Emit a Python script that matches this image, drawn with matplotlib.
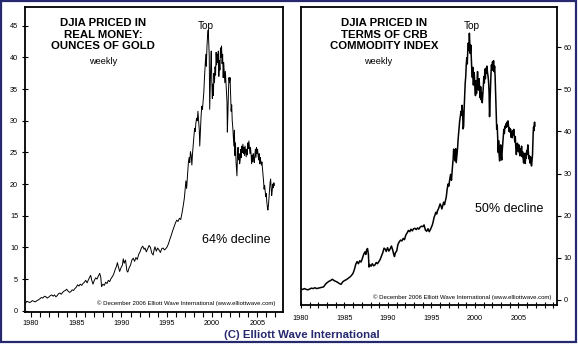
import matplotlib
matplotlib.use("Agg")
import matplotlib.pyplot as plt
from matplotlib.patches import Rectangle

# ---------------- data ----------------
gold_t = [1979.4, 1979.55, 1979.7, 1979.85, 1980.0, 1980.15, 1980.3, 1980.5, 1980.65, 1980.8,
          1981.0, 1981.15, 1981.3, 1981.5, 1981.65, 1981.8, 1982.0, 1982.15, 1982.3, 1982.45,
          1982.6, 1982.75, 1982.9, 1983.05, 1983.2, 1983.35, 1983.5, 1983.65, 1983.8, 1983.95,
          1984.1, 1984.25, 1984.4, 1984.55, 1984.7, 1984.85, 1985.0, 1985.15, 1985.3, 1985.45,
          1985.6, 1985.75, 1985.9, 1986.05, 1986.2, 1986.35, 1986.5, 1986.6, 1986.7, 1986.85,
          1987.0, 1987.15, 1987.3, 1987.45, 1987.6, 1987.72, 1987.8, 1987.95, 1988.1, 1988.25,
          1988.4, 1988.55, 1988.7, 1988.85, 1989.0, 1989.15, 1989.3, 1989.45, 1989.55, 1989.65,
          1989.8, 1989.95, 1990.1, 1990.2, 1990.3, 1990.45, 1990.6, 1990.7, 1990.85, 1991.0,
          1991.15, 1991.3, 1991.45, 1991.6, 1991.75, 1991.9, 1992.05, 1992.2, 1992.35, 1992.5,
          1992.6, 1992.75, 1992.9, 1993.05, 1993.2, 1993.35, 1993.5, 1993.6, 1993.7, 1993.85,
          1994.0, 1994.15, 1994.3, 1994.45, 1994.6, 1994.75, 1994.9, 1995.05, 1995.2, 1995.35,
          1995.5, 1995.65, 1995.8, 1995.95, 1996.1, 1996.25, 1996.4, 1996.55, 1996.7, 1996.85,
          1996.95, 1997.05, 1997.12, 1997.2, 1997.3, 1997.4, 1997.48, 1997.55, 1997.62, 1997.7,
          1997.78, 1997.85, 1997.92, 1998.0, 1998.08, 1998.15, 1998.22, 1998.3, 1998.38, 1998.45,
          1998.52, 1998.6, 1998.65, 1998.72, 1998.8, 1998.88, 1998.95, 1999.02, 1999.1, 1999.18,
          1999.25, 1999.32, 1999.38, 1999.45, 1999.52, 1999.58, 1999.64, 1999.7, 1999.75, 1999.8,
          1999.86, 1999.92, 1999.98, 2000.04, 2000.1, 2000.16, 2000.22, 2000.28, 2000.34, 2000.4,
          2000.46, 2000.52, 2000.58, 2000.64, 2000.7, 2000.76, 2000.82, 2000.88, 2000.94, 2001.0,
          2001.06, 2001.12, 2001.18, 2001.24, 2001.3, 2001.36, 2001.42, 2001.48, 2001.54, 2001.6,
          2001.66, 2001.7, 2001.76, 2001.82, 2001.88, 2001.94, 2002.0, 2002.06, 2002.12, 2002.18,
          2002.24, 2002.3, 2002.36, 2002.42, 2002.48, 2002.54, 2002.6, 2002.66, 2002.72, 2002.76,
          2002.82, 2002.88, 2002.94, 2003.0, 2003.06, 2003.12, 2003.18, 2003.24, 2003.3, 2003.36,
          2003.42, 2003.48, 2003.54, 2003.6, 2003.66, 2003.72, 2003.78, 2003.84, 2003.9, 2003.96,
          2004.02, 2004.08, 2004.14, 2004.2, 2004.26, 2004.32, 2004.38, 2004.44, 2004.5, 2004.56,
          2004.62, 2004.68, 2004.74, 2004.8, 2004.86, 2004.92, 2004.98, 2005.04, 2005.1, 2005.16,
          2005.22, 2005.28, 2005.34, 2005.4, 2005.46, 2005.52, 2005.58, 2005.64, 2005.7, 2005.76,
          2005.82, 2005.88, 2005.94, 2006.0, 2006.06, 2006.12, 2006.18, 2006.24, 2006.3, 2006.36,
          2006.42, 2006.48, 2006.54, 2006.6, 2006.66, 2006.72, 2006.78, 2006.84, 2006.9]
gold_v = [1.2, 1.5, 1.4, 1.3, 1.4, 1.6, 1.5, 1.4, 1.6, 1.7,
          1.9, 2.1, 2.0, 2.3, 2.2, 2.0, 2.2, 2.4, 2.5, 2.3,
          2.5, 2.2, 2.4, 2.7, 2.8, 2.6, 2.9, 3.1, 3.2, 3.4,
          3.1, 2.9, 3.0, 3.3, 3.2, 3.5, 3.7, 4.1, 3.9, 4.2,
          4.0, 4.3, 4.5, 4.8, 4.4, 4.9, 5.3, 5.6, 4.9, 4.2,
          4.8, 5.2, 5.0, 5.5, 5.9, 5.2, 3.8, 4.2, 4.0, 4.5,
          4.3, 4.8, 4.6, 5.1, 5.4, 5.8, 6.5, 7.0, 7.6, 7.0,
          6.2, 6.8, 7.2, 8.2, 7.5, 8.0, 6.3, 6.1, 6.8, 7.2,
          8.0, 8.3, 7.8, 8.4, 8.1, 8.9, 9.3, 9.9, 10.2, 9.7,
          9.9, 9.3, 9.8, 10.3, 10.0, 9.1, 8.8, 9.6, 10.1, 9.4,
          9.9, 9.6, 9.2, 9.8, 9.9, 9.6, 9.8, 10.1, 10.6, 11.3,
          11.9, 12.6, 13.2, 13.8, 14.3, 14.1, 14.6, 14.4, 15.5, 16.8,
          17.8, 19.5, 20.5, 19.3, 21.5, 23.5, 24.2, 23.4, 25.1, 24.6,
          23.0, 24.8, 26.0, 27.5, 28.8, 28.3, 29.6, 30.4, 30.0, 31.5,
          30.2, 28.5, 26.0, 28.2, 30.8, 32.3, 31.8, 33.0, 34.5, 37.0,
          38.8, 40.5, 38.6, 41.8, 43.5, 44.3, 42.5, 40.2, 31.8, 35.0,
          38.5, 41.0, 36.5, 33.5, 35.8, 34.0, 37.5, 36.0, 38.5, 37.2,
          40.8, 38.8, 40.5, 39.2, 41.0, 37.0, 39.5, 38.0, 41.5, 40.0,
          41.8, 39.0, 40.5, 36.8, 39.2, 37.5, 36.0, 37.8, 36.2, 34.5,
          33.0, 28.2, 31.0, 34.5, 36.8, 36.0, 36.8, 34.0, 31.5, 32.5,
          30.0, 29.0, 27.5, 26.0, 28.5, 24.5, 26.5, 23.5, 22.2, 21.3,
          24.5, 25.8, 23.8, 24.8, 23.2, 23.8, 25.5, 24.2, 26.0, 25.0,
          26.3, 24.8, 25.8, 24.5, 26.0, 25.2, 24.3, 25.5, 24.6, 26.5,
          25.6, 26.8, 25.8, 24.8, 25.8, 24.8, 23.2, 24.5, 23.5, 24.8,
          24.0, 23.4, 24.6, 25.5, 24.2, 25.8, 24.8, 25.5, 24.5, 23.8,
          24.8, 23.2, 24.2, 23.5, 23.0, 23.5, 22.5, 21.5, 20.5, 19.2,
          19.8, 18.8, 18.0, 18.5, 17.2, 16.4, 15.9, 16.6, 17.8, 18.8,
          20.2, 20.8, 19.5, 18.2, 19.0, 20.0, 19.4, 20.2, 19.8]

crb_t = [1980.0, 1980.2, 1980.4, 1980.6, 1980.8, 1981.0, 1981.2, 1981.4, 1981.6, 1981.8,
         1982.0, 1982.2, 1982.4, 1982.6, 1982.8, 1983.0, 1983.2, 1983.4, 1983.6, 1983.8,
         1984.0, 1984.2, 1984.4, 1984.6, 1984.8, 1985.0, 1985.2, 1985.4, 1985.6, 1985.8,
         1986.0, 1986.15, 1986.3, 1986.45, 1986.6, 1986.75, 1986.9, 1987.05, 1987.2, 1987.35,
         1987.45, 1987.55, 1987.65, 1987.75, 1987.82, 1987.9, 1988.05, 1988.2, 1988.35, 1988.5,
         1988.65, 1988.8, 1988.95, 1989.1, 1989.25, 1989.4, 1989.55, 1989.7, 1989.8, 1989.95,
         1990.1, 1990.25, 1990.4, 1990.55, 1990.65, 1990.75, 1990.85, 1991.0, 1991.15, 1991.3,
         1991.45, 1991.6, 1991.75, 1991.9, 1992.05, 1992.2, 1992.35, 1992.5, 1992.65, 1992.8,
         1992.95, 1993.1, 1993.25, 1993.4, 1993.55, 1993.7, 1993.85, 1994.0, 1994.15, 1994.3,
         1994.45, 1994.6, 1994.75, 1994.9, 1995.0, 1995.1, 1995.2, 1995.3, 1995.4, 1995.5,
         1995.6, 1995.7, 1995.8, 1995.9, 1996.0, 1996.1, 1996.2, 1996.3, 1996.4, 1996.5,
         1996.6, 1996.7, 1996.8, 1996.9, 1997.0, 1997.1, 1997.2, 1997.3, 1997.4, 1997.5,
         1997.55, 1997.62, 1997.7, 1997.78, 1997.85, 1997.92, 1998.0, 1998.08, 1998.16, 1998.24,
         1998.32, 1998.4, 1998.46, 1998.52, 1998.58, 1998.64, 1998.7, 1998.76, 1998.82, 1998.88,
         1998.94, 1999.0, 1999.06, 1999.12, 1999.18, 1999.24, 1999.3, 1999.36, 1999.4, 1999.46,
         1999.52, 1999.58, 1999.64, 1999.7, 1999.76, 1999.82, 1999.88, 1999.94, 2000.0, 2000.06,
         2000.12, 2000.18, 2000.24, 2000.3, 2000.36, 2000.42, 2000.48, 2000.54, 2000.6, 2000.66,
         2000.72, 2000.78, 2000.84, 2000.9, 2000.96, 2001.02, 2001.08, 2001.14, 2001.2, 2001.26,
         2001.32, 2001.38, 2001.44, 2001.5, 2001.56, 2001.62, 2001.68, 2001.72, 2001.78, 2001.84,
         2001.9, 2001.96, 2002.02, 2002.08, 2002.14, 2002.2, 2002.26, 2002.32, 2002.38, 2002.44,
         2002.5, 2002.56, 2002.62, 2002.68, 2002.72, 2002.78, 2002.84, 2002.9, 2002.96, 2003.02,
         2003.08, 2003.14, 2003.2, 2003.26, 2003.32, 2003.38, 2003.44, 2003.5, 2003.56, 2003.62,
         2003.68, 2003.74, 2003.8, 2003.86, 2003.92, 2003.98, 2004.04, 2004.1, 2004.16, 2004.22,
         2004.28, 2004.34, 2004.4, 2004.46, 2004.52, 2004.58, 2004.64, 2004.7, 2004.76, 2004.82,
         2004.88, 2004.94, 2005.0, 2005.06, 2005.12, 2005.18, 2005.24, 2005.3, 2005.36, 2005.42,
         2005.48, 2005.54, 2005.6, 2005.66, 2005.72, 2005.78, 2005.84, 2005.9, 2005.96, 2006.02,
         2006.08, 2006.14, 2006.2, 2006.26, 2006.32, 2006.38, 2006.44, 2006.5, 2006.56, 2006.62,
         2006.66, 2006.7, 2006.74, 2006.78, 2006.82, 2006.86, 2006.9]
crb_v = [2.6, 2.5, 2.7, 2.5, 2.4, 2.6, 2.8, 2.7, 2.9, 2.7,
         2.8, 2.9, 3.0, 3.1, 3.7, 4.1, 4.4, 4.6, 4.9, 4.6,
         4.4, 4.2, 3.9, 3.7, 4.3, 4.6, 4.8, 5.1, 5.4, 5.8,
         6.4, 7.3, 8.5, 9.1, 8.6, 9.3, 9.0, 9.8, 10.8, 11.4,
         10.8, 11.9, 12.2, 10.8, 7.8, 8.4, 8.0, 8.6, 8.1, 8.3,
         8.9, 8.6, 9.1, 9.6, 10.4, 11.2, 12.3, 12.0, 11.5, 12.4,
         11.6, 12.1, 12.8, 11.8, 10.9, 10.3, 11.2, 11.6, 13.2, 13.8,
         14.2, 14.0, 14.6, 14.3, 15.4, 15.9, 16.5, 16.2, 16.8, 16.4,
         16.9, 17.0, 16.7, 17.1, 16.8, 17.3, 17.5, 17.4, 17.8, 16.6,
         16.3, 16.9, 16.2, 16.8, 17.3, 17.8, 18.6, 19.6, 20.1, 20.8,
         20.4, 21.2, 21.6, 22.2, 22.8, 22.3, 21.6, 22.4, 23.2, 22.6,
         23.5, 24.4, 26.2, 27.5, 27.0, 28.6, 29.8, 28.4, 31.2, 33.6,
         35.8, 34.5, 33.0, 35.9, 32.6, 34.2, 36.0, 38.5, 40.5, 42.4,
         43.6, 44.8, 43.8, 46.2, 44.5, 40.6, 41.2, 45.5, 48.6, 51.5,
         53.0, 55.8, 57.5, 56.0, 59.5, 61.0, 59.2, 63.3, 61.5, 58.5,
         60.5, 57.2, 54.5, 52.8, 55.2, 51.0, 54.0, 53.2, 50.2, 48.5,
         52.0, 49.0, 51.8, 54.2, 50.5, 49.8, 52.5, 50.0, 48.0, 50.6,
         47.5, 49.2, 46.8, 48.5, 50.5, 53.0, 51.5, 54.8, 52.5, 55.0,
         53.8, 55.5, 54.0, 53.2, 52.0, 49.5, 43.5, 46.0, 50.5, 53.5,
         55.8, 54.5, 56.5, 55.0, 56.8, 54.2, 55.5, 53.0, 49.0, 44.5,
         40.5, 41.5, 38.5, 35.0, 37.8, 34.5, 33.0, 35.5, 36.8, 34.5,
         33.2, 35.5, 37.0, 38.8, 40.5, 39.5, 41.2, 40.8, 41.8, 41.0,
         42.2, 41.3, 42.5, 41.2, 40.0, 40.8, 39.8, 40.5, 38.6, 39.8,
         38.5, 40.2, 39.2, 40.5, 39.0, 37.5, 38.8, 36.0, 34.5, 35.8,
         37.2, 36.5, 35.2, 36.8, 35.0, 34.2, 35.8, 34.5, 36.5, 34.0,
         35.2, 33.6, 32.5, 34.8, 33.0, 32.4, 34.8, 33.6, 35.5, 34.6,
         36.8, 35.0, 33.5, 34.2, 32.5, 34.0, 33.2, 31.8, 33.0, 34.5,
         37.5, 39.8, 41.0, 40.2, 41.8, 42.2, 41.3]

year_ticks = list(range(1980, 2010))
year_labels_at = [1980, 1985, 1990, 1995, 2000, 2005]
gold_yticks = [0, 5, 10, 15, 20, 25, 30, 35, 40, 45]
crb_yticks = [0, 10, 20, 30, 40, 50, 60]

left_title = "DJIA PRICED IN\nREAL MONEY:\nOUNCES OF GOLD"
right_title = "DJIA PRICED IN\nTERMS OF CRB\nCOMMODITY INDEX"
copyright_txt = "\u00a9 December 2006 Elliott Wave International (www.elliottwave.com)"
footer_txt = "(C) Elliott Wave International"

# ---------------- figure ----------------
W, H = 578, 344
fig = plt.figure(figsize=(W / 100, H / 100), dpi=100)
fig.patch.set_facecolor("white")
NAVY = "#27296e"
FONT = ["Liberation Sans", "DejaVu Sans"]

def fx(px):
    return px / W

def fy(py):
    return 1 - py / H

# outer frame
fig.patches.append(Rectangle((fx(0.8), fy(342.2)), fx(576.2 - 0.8), (342.2 - 0.8) / H,
                             transform=fig.transFigure, fill=False,
                             edgecolor=NAVY, linewidth=1.6))

def axes_px(x0, y0, x1, y1):
    return fig.add_axes([fx(x0), fy(y1), fx(x1 - x0), (y1 - y0) / H])

axL = axes_px(25, 6.7, 283, 311.7)
axR = axes_px(301, 6.7, 556.7, 305)

for ax in (axL, axR):
    for s in ax.spines.values():
        s.set_linewidth(1.3)
        s.set_color("black")
    ax.set_facecolor("white")

# left panel
axL.plot(gold_t, gold_v, color="black", linewidth=0.7)
axL.set_xlim(1979.34, 2007.85)
axL.set_ylim(-0.15, 48.0)
axL.set_xticks(year_ticks[:28])
axL.set_xticklabels([str(y) if y in year_labels_at else "" for y in year_ticks[:28]])
axL.set_yticks(gold_yticks)
axL.tick_params(axis="x", direction="out", length=3.5, width=0.8, pad=2.5, labelsize=5.2)
axL.tick_params(axis="y", direction="inout", length=4, width=0.8, pad=3, labelsize=5.2)
for lab in axL.get_xticklabels() + axL.get_yticklabels():
    lab.set_family(FONT)

# right panel
axR.plot(crb_t, crb_v, color="black", linewidth=1.1)
axR.set_xlim(1980.0, 2009.4)
axR.set_ylim(-1.2, 69.6)
axR.set_xticks(year_ticks)
axR.set_xticklabels([str(y) if y in year_labels_at else "" for y in year_ticks])
axR.set_yticks(crb_yticks)
axR.yaxis.tick_right()
axR.tick_params(axis="x", direction="inout", length=5, width=0.8, pad=5, labelsize=5.2)
axR.tick_params(axis="y", direction="out", length=3, width=0.8, pad=2, labelsize=5.2,
                left=False, right=True)
for lab in axR.get_xticklabels() + axR.get_yticklabels():
    lab.set_family(FONT)

# texts
fig.text(fx(103), fy(34.5), left_title, ha="center", va="center", fontsize=8.2,
         fontweight="bold", family=FONT, linespacing=1.18)
fig.text(fx(384), fy(34.5), right_title, ha="center", va="center", fontsize=8.2,
         fontweight="bold", family=FONT, linespacing=1.18)
fig.text(fx(103), fy(62), "weekly", ha="center", va="center", fontsize=6.6, family=FONT)
fig.text(fx(378), fy(62), "weekly", ha="center", va="center", fontsize=6.6, family=FONT)
fig.text(fx(206), fy(26), "Top", ha="center", va="center", fontsize=7.2, family=FONT)
fig.text(fx(472), fy(26), "Top", ha="center", va="center", fontsize=7.2, family=FONT)
fig.text(fx(236), fy(240), "64% decline", ha="center", va="center", fontsize=9, family=FONT)
fig.text(fx(509), fy(209), "50% decline", ha="center", va="center", fontsize=9, family=FONT)
fig.text(fx(275), fy(303), copyright_txt, ha="right", va="center", fontsize=4.3, family=FONT)
fig.text(fx(551), fy(297.5), copyright_txt, ha="right", va="center", fontsize=4.3, family=FONT)
fig.text(fx(302), fy(334.5), footer_txt, ha="center", va="center", fontsize=8.2,
         fontweight="bold", color=NAVY, family=FONT)

fig.savefig("out.png", dpi=100, facecolor="white")
